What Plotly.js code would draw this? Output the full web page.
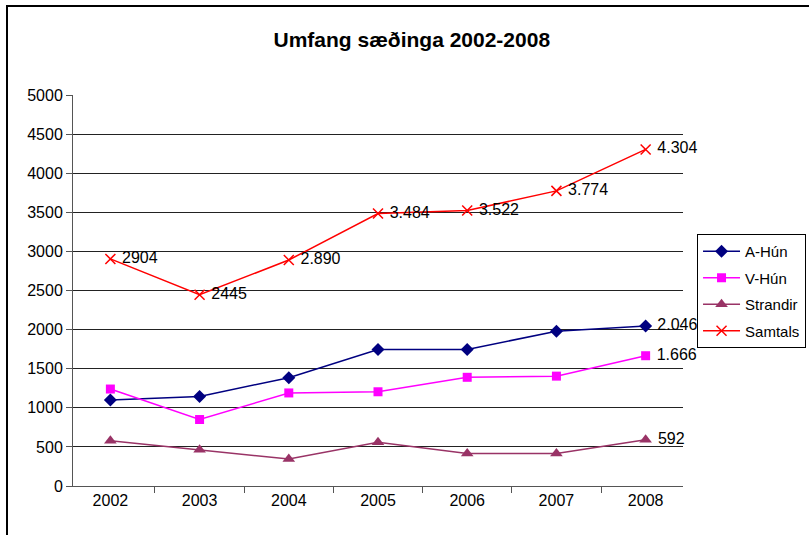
<!DOCTYPE html>
<html>
<head>
<meta charset="utf-8">
<script src="https://cdn.plot.ly/plotly-3.0.1.min.js"></script>
<style>
html,body{margin:0;padding:0;background:#fff;overflow:hidden;}
#wrap{position:relative;width:809px;height:535px;}
#chart{position:absolute;left:0;top:0;width:809px;height:535px;}
#frame{position:absolute;left:6px;top:5px;width:900px;height:700px;border-left:2px solid #000;border-top:2px solid #000;pointer-events:none;}
</style>
</head>
<body>
<div id="wrap"><div id="chart"></div><div id="frame"></div></div>
<script>
var years = ["2002","2003","2004","2005","2006","2007","2008"];
var aHun = [1100, 1145, 1385, 1745, 1745, 1980, 2046];
var vHun = [1240, 850, 1190, 1205, 1390, 1405, 1666];
var strandir = [580, 465, 345, 560, 415, 415, 592];
var samtals = [2904, 2445, 2890, 3484, 3522, 3774, 4304];
var aHunLabels = ["", "", "", "", "", "", "2.046"];
var vHunLabels = ["", "", "", "", "", "", "1.666"];
var strandirLabels = ["", "", "", "", "", "", "592"];
var samtalsLabels = ["2904", "2445", "2.890", "3.484", "3.522", "3.774", "4.304"];
var yTicks = [0, 500, 1000, 1500, 2000, 2500, 3000, 3500, 4000, 4500, 5000];

var font = "Liberation Sans, Arial, sans-serif";
function tr(name, y, labels, color, symbol, size, lw){
  return {
    x: years, y: y, name: name, type: "scatter", mode: "lines+markers+text",
    text: labels, texttemplate: " %{text}", textposition: "middle right", cliponaxis: false,
    textfont: {family: font, size: 16, color: "#000"},
    line: {color: color, width: 1.5},
    marker: {symbol: symbol, size: size, color: color, line: {color: color, width: lw}},
    legendgroup: name
  };
}
var data = [
  tr("A-Hún", aHun, aHunLabels, "#000080", "diamond", 10, 0),
  tr("V-Hún", vHun, vHunLabels, "#FF00FF", "square", 9, 0),
  tr("Strandir", strandir, strandirLabels, "#993366", "triangle-up", 11, 0),
  tr("Samtals", samtals, samtalsLabels, "#FF0000", "x-thin", 10, 1.5)
];
var layout = {
  width: 809, height: 535,
  margin: {l: 73, r: 126, t: 95, b: 49},
  paper_bgcolor: "#fff", plot_bgcolor: "#fff",
  font: {family: font, size: 16, color: "#000"},
  title: {text: "<b>Umfang sæðinga 2002-2008</b>", font: {family: font, size: 21, color: "#000"},
          x: 0.509, xanchor: "center", y: 0.926, yref: "container", yanchor: "middle"},
  showlegend: true,
  legend: {xref: "container", yref: "container", x: 0.8616, xanchor: "left", y: 0.5626, yanchor: "top",
           bordercolor: "#000", borderwidth: 1, itemwidth: 37,
           font: {family: font, size: 15, color: "#000"}, traceorder: "grouped", tracegroupgap: 4,
           bgcolor: "#fff"},
  xaxis: {type: "category", tickson: "boundaries", ticks: "outside", ticklen: 6, tickcolor: "#555",
          showline: true, linecolor: "#555", linewidth: 1, showgrid: false, zeroline: false,
          tickfont: {family: font, size: 16, color: "#000"}, fixedrange: true},
  yaxis: {range: [0, 5000], tickvals: yTicks, ticktext: yTicks.map(String), ticks: "outside", ticklen: 6,
          tickcolor: "#555", showline: true, linecolor: "#555", linewidth: 1,
          showgrid: true, gridcolor: "#222", gridwidth: 1, zeroline: false,
          tickfont: {family: font, size: 16, color: "#000"}, fixedrange: true}
};
Plotly.newPlot("chart", data, layout, {displayModeBar: false, staticPlot: true});
</script>
</body>
</html>
